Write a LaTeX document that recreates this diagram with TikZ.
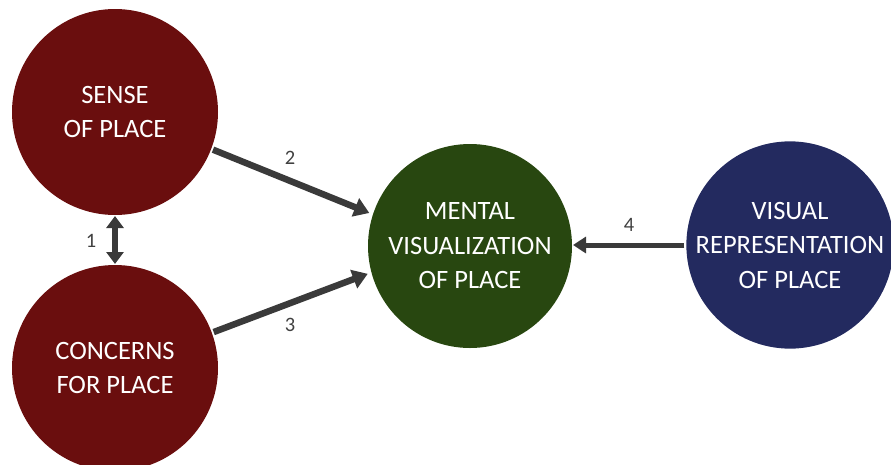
\documentclass[tikz,border=0pt]{standalone}
\usepackage{fontspec}
\setmainfont{Carlito}
\usetikzlibrary{arrows.meta}
\definecolor{placered}{HTML}{6A0E0E}
\definecolor{placegreen}{HTML}{284710}
\definecolor{placenavy}{HTML}{232A5F}
\definecolor{arrowgray}{HTML}{3A3A3A}
\definecolor{labelgray}{HTML}{404040}
\tikzset{
  bubble/.style={circle, minimum size=206pt, inner sep=0pt, outer sep=0pt, text=white, align=center,
    font=\fontsize{26.5}{34.5}\selectfont},
  conn/.style={draw=arrowgray, line width=6.5pt, -{Triangle[length=15pt,width=19pt]}},
  numlabel/.style={text=labelgray, font=\fontsize{20.5}{23}\selectfont, inner sep=0pt}
}
\begin{document}
\begin{tikzpicture}[x=1pt,y=-1pt]
\useasboundingbox (0,0) rectangle (891,464);
\clip (0,0) rectangle (891,464);
\node[bubble, fill=placered] (sense) at (115,112) {SENSE\\OF PLACE};
\node[bubble, fill=placered] (concerns) at (115,368) {CONCERNS\\FOR PLACE};
\node[bubble, fill=placegreen, minimum size=204pt] (mental) at (470,246) {MENTAL\\VISUALIZATION\\OF PLACE};
\node[bubble, fill=placenavy] (visual) at (790,245) {VISUAL\\REPRESENTATION\\OF PLACE};
\draw[conn, shorten <=2pt, shorten >=4pt] (sense.-21) -- (mental.162);
\draw[conn, shorten <=2pt, shorten >=4pt] (concerns.20) -- (mental.195);
\draw[conn, line width=5pt, -{Triangle[length=13pt,width=16pt]}, shorten <=2pt, shorten >=1pt] (visual.west) -- (mental.east |- visual.west);
\draw[conn, line width=5.5pt, {Triangle[length=12pt,width=17pt]}-{Triangle[length=12pt,width=17pt]}, shorten <=1pt, shorten >=1pt] (sense.south) -- (concerns.north);
\node[numlabel] (l1) at (91,241) {1};
\node[numlabel] (l2) at (290,158) {2};
\node[numlabel] (l3) at (290,325) {3};
\node[numlabel] (l4) at (629,225) {4};
\end{tikzpicture}
\end{document}
